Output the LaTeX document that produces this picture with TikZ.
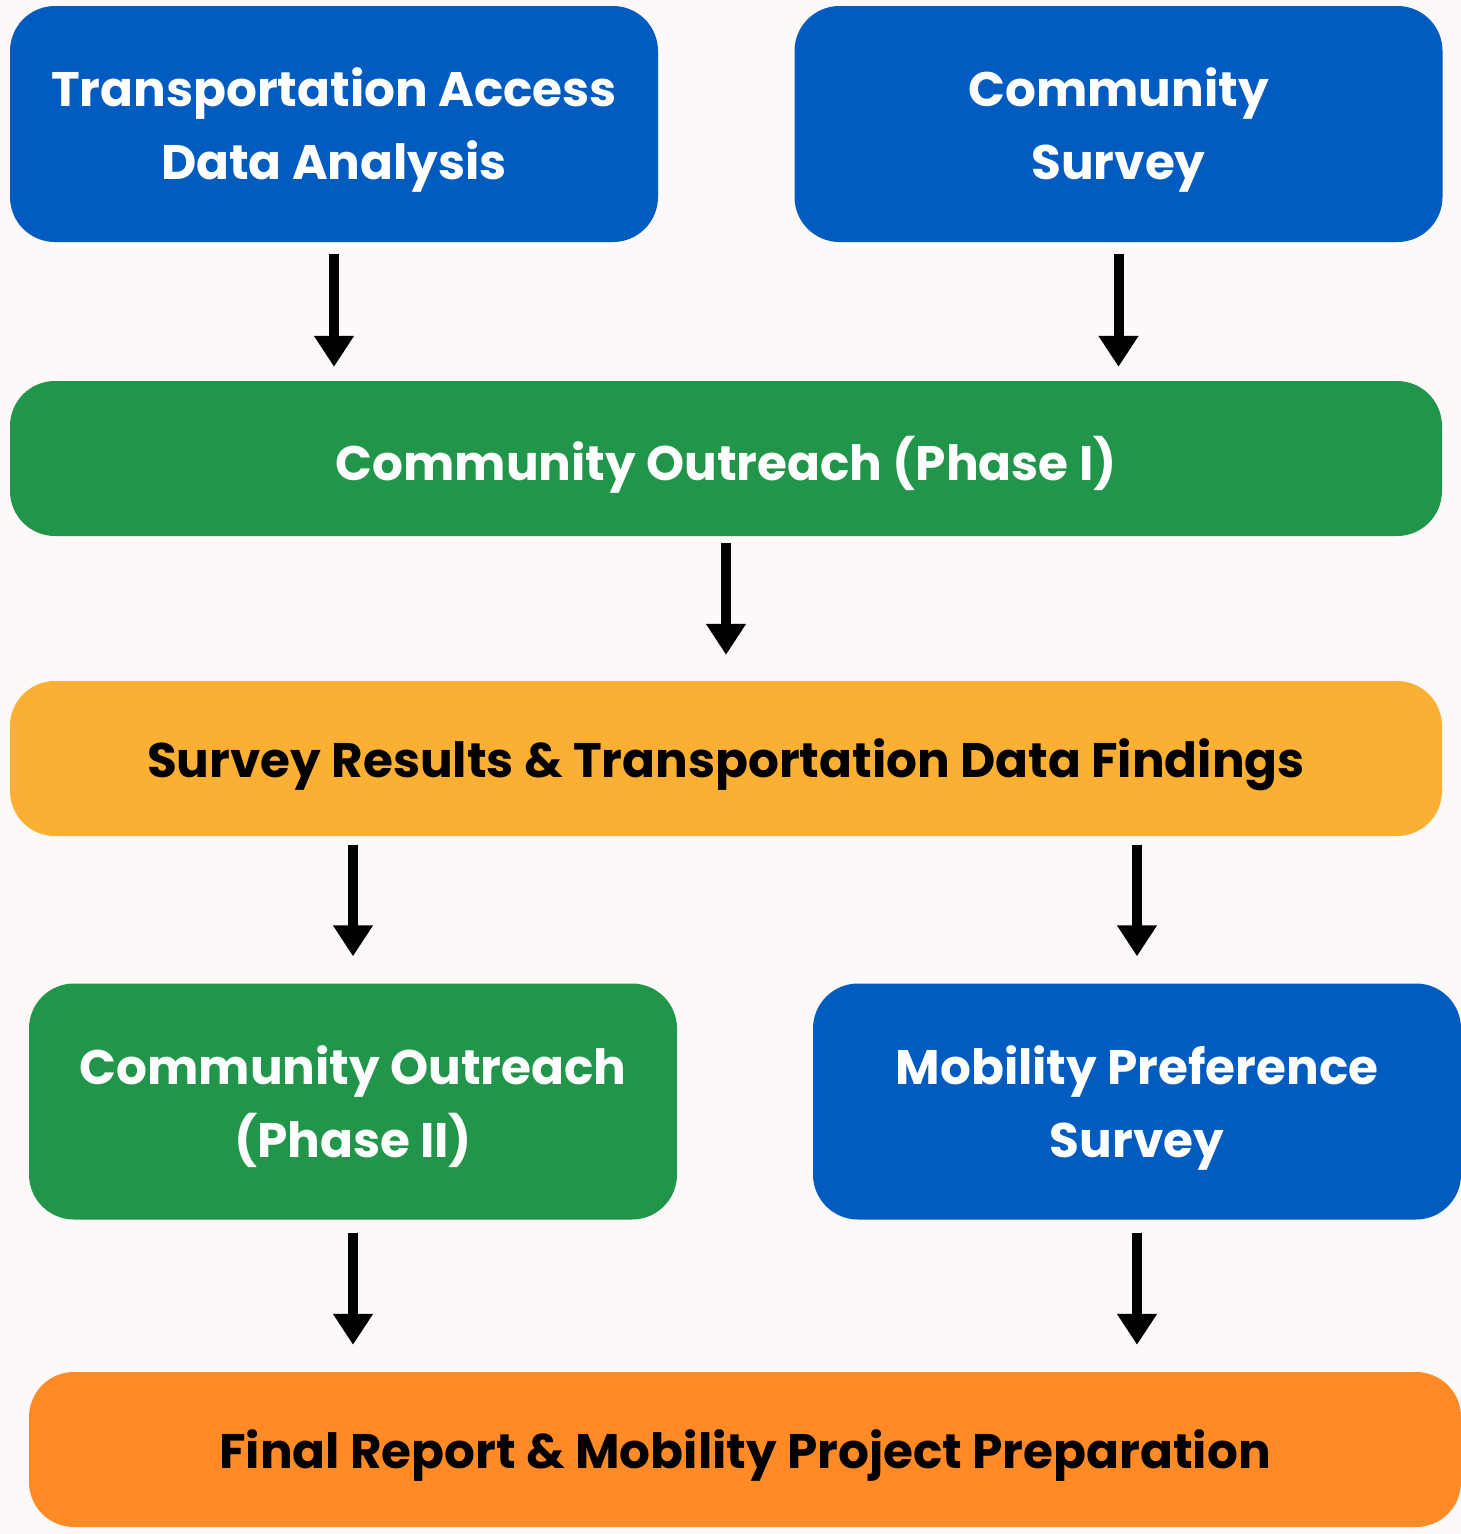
\documentclass[tikz,border=0pt]{standalone}
\usepackage{fontspec}
\setmainfont{Poppins}
\usetikzlibrary{arrows.meta}
\definecolor{bg}{HTML}{FDF9F8}
\definecolor{cblue}{HTML}{025BBF}
\definecolor{cgreen}{HTML}{21964A}
\definecolor{cyellow}{HTML}{FBB034}
\definecolor{corange}{HTML}{FF8A26}
\tikzset{
  box/.style={rectangle, rounded corners=45pt, inner sep=0pt, align=center,
    text depth=0pt, font=\fontsize{48.5}{73}\selectfont\bfseries},
  widebox/.style={box, minimum width=1432pt, minimum height=155pt},
  halfbox/.style={box, minimum width=648pt, minimum height=236pt},
  arr/.style={line width=10pt, -{Triangle[width=38pt,length=31pt]}},
}
\begin{document}
\begin{tikzpicture}[x=1pt,y=-1pt]
\fill[bg] (0,0) rectangle (1461,1534);
\useasboundingbox (0,0) rectangle (1461,1534);
\node[halfbox, fill=cblue, text=white] (n1) at (334,124) {Transportation Access\\Data Analysis};
\node[halfbox, fill=cblue, text=white] (n2) at (1118.5,124) {Community\\Survey};
\node[widebox, fill=cgreen, text=white] (n3) at (726,458.5) {Community Outreach (Phase I)};
\node[widebox, fill=cyellow, text=black] (n4) at (726,758.5) {Survey Results \& Transportation Data Findings};
\node[halfbox, fill=cgreen, text=white] (n5) at (353,1101.5) {Community Outreach\\(Phase II)};
\node[halfbox, fill=cblue, text=white] (n6) at (1137,1101.5) {Mobility Preference\\Survey};
\node[widebox, fill=corange, text=black] (n7) at (745,1449.5) {Final Report \& Mobility Project Preparation};
\draw[arr, shorten <=12pt, shorten >=14pt] (n1.south) -- (n1.south |- n3.north);
\draw[arr, shorten <=12pt, shorten >=14pt] (n2.south) -- (n2.south |- n3.north);
\draw[arr, shorten <=7pt, shorten >=26pt] (n3.south) -- (n4.north);
\draw[arr, shorten <=9pt, shorten >=27pt] (n4.south -| n5.north) -- (n5.north);
\draw[arr, shorten <=9pt, shorten >=27pt] (n4.south -| n6.north) -- (n6.north);
\draw[arr, shorten <=13pt, shorten >=27pt] (n5.south) -- (n5.south |- n7.north);
\draw[arr, shorten <=13pt, shorten >=27pt] (n6.south) -- (n6.south |- n7.north);
\end{tikzpicture}
\end{document}
